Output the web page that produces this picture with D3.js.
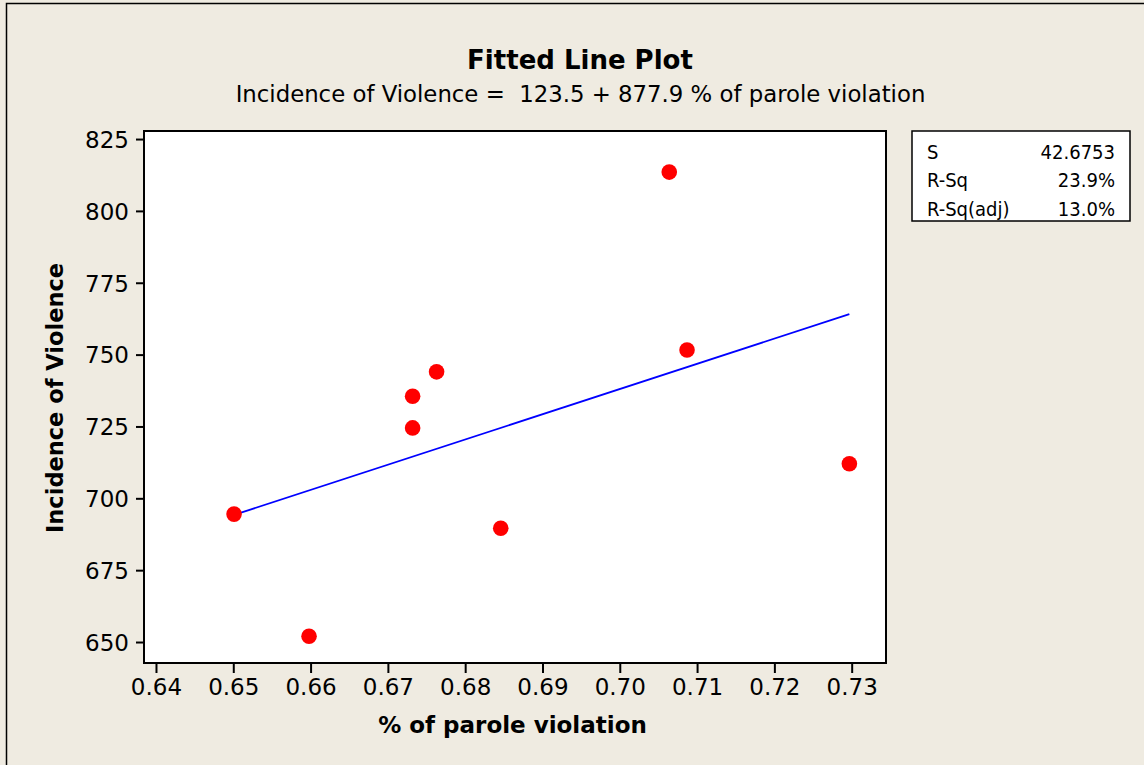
<!DOCTYPE html>
<html>
<head>
<meta charset="utf-8">
<script src="https://cdn.jsdelivr.net/npm/d3@7"></script>
<style>
  html, body { margin: 0; padding: 0; background: #EFEBE1; }
  svg { display: block; }
  text { font-family: "DejaVu Sans", "Liberation Sans", Arial, sans-serif; fill: #000; }
  .cond { font-family: "DejaVu Sans Condensed", "DejaVu Sans", sans-serif; }
</style>
</head>
<body>
<svg id="chart" width="1144" height="765"></svg>
<script>
// ---- data ----
const paroleViolation = [0.6501, 0.6598, 0.6732, 0.6732, 0.6763, 0.6846, 0.7064, 0.7087, 0.7297];
const incidenceViolence = [694.5, 652.0, 724.5, 735.5, 744.0, 689.6, 813.5, 751.6, 712.0];
const fitIntercept = 123.5;
const fitSlope = 877.9;
const xTicks = [0.64, 0.65, 0.66, 0.67, 0.68, 0.69, 0.70, 0.71, 0.72, 0.73];
const yTicks = [650, 675, 700, 725, 750, 775, 800, 825];
const statLabels = ["S", "R-Sq", "R-Sq(adj)"];
const statValues = ["42.6753", "23.9%", "13.0%"];
const titleText = "Fitted Line Plot";
const subtitleText = "Incidence of Violence =  123.5 + 877.9 % of parole violation";
const xLabel = "% of parole violation";
const yLabel = "Incidence of Violence";

// ---- layout ----
const svg = d3.select("#chart");
const plot = { left: 144, top: 131, right: 886, bottom: 663 };

svg.append("rect").attr("x", 0).attr("y", 0).attr("width", 1144).attr("height", 765).attr("fill", "#EFEBE1");
svg.append("rect").attr("x", 6.5).attr("y", 3.5).attr("width", 1150).attr("height", 770)
  .attr("fill", "none").attr("stroke", "#000").attr("stroke-width", 1.5);

const x = d3.scaleLinear().domain([0.63845, 0.73444]).range([plot.left, plot.right]);
const y = d3.scaleLinear().domain([642.7, 827.8]).range([plot.bottom, plot.top]);

// plot area
svg.append("rect").attr("x", plot.left).attr("y", plot.top)
  .attr("width", plot.right - plot.left).attr("height", plot.bottom - plot.top)
  .attr("fill", "#fff").attr("stroke", "#000").attr("stroke-width", 2);

// axes
const xAxis = d3.axisBottom(x).tickValues(xTicks).tickFormat(d3.format(".2f")).tickSize(10).tickSizeOuter(0).tickPadding(6);
const gx = svg.append("g").attr("transform", `translate(0,${plot.bottom})`).call(xAxis);
gx.select(".domain").remove();
gx.selectAll(".tick line").attr("stroke", "#000").attr("stroke-width", 2);
gx.selectAll(".tick text").attr("font-size", 23).attr("font-family", null).attr("dy", "0.7em");

const yAxis = d3.axisLeft(y).tickValues(yTicks).tickFormat(d3.format("d")).tickSize(8).tickSizeOuter(0).tickPadding(7);
const gy = svg.append("g").attr("transform", `translate(${plot.left},0)`).call(yAxis);
gy.select(".domain").remove();
gy.selectAll(".tick line").attr("stroke", "#000").attr("stroke-width", 2);
gy.selectAll(".tick text").attr("font-size", 23).attr("font-family", null).attr("dy", "0.36em");

// fitted line
const xMin = d3.min(paroleViolation), xMax = d3.max(paroleViolation);
svg.append("line")
  .attr("x1", x(xMin)).attr("y1", y(fitIntercept + fitSlope * xMin))
  .attr("x2", x(xMax)).attr("y2", y(fitIntercept + fitSlope * xMax))
  .attr("stroke", "#0000FF").attr("stroke-width", 1.8);

// points
svg.append("g").selectAll("circle")
  .data(paroleViolation.map((v, i) => [v, incidenceViolence[i]]))
  .join("circle")
  .attr("cx", d => x(d[0])).attr("cy", d => y(d[1])).attr("r", 7.8)
  .attr("fill", "#FF0000");

// titles
svg.append("text").attr("x", 580).attr("y", 69).attr("text-anchor", "middle")
  .attr("font-size", 26).attr("font-weight", "bold").text(titleText);
svg.append("text").attr("x", 580.5).attr("y", 102).attr("text-anchor", "middle")
  .attr("font-size", 22.8).style("white-space", "pre").text(subtitleText);

// axis labels
svg.append("text").attr("x", 512.5).attr("y", 733).attr("text-anchor", "middle")
  .attr("font-size", 23).attr("font-weight", "bold").text(xLabel);
svg.append("text").attr("transform", "translate(63,398) rotate(-90)").attr("text-anchor", "middle")
  .attr("font-size", 22.5).attr("font-weight", "bold").text(yLabel);

// stats box
const box = { left: 912, top: 131, right: 1130, bottom: 221 };
svg.append("rect").attr("x", box.left).attr("y", box.top)
  .attr("width", box.right - box.left).attr("height", box.bottom - box.top)
  .attr("fill", "#fff").attr("stroke", "#000").attr("stroke-width", 1.5);
const rowBase = [158.5, 187, 215.5];
svg.append("g").selectAll("text").data(statLabels).join("text").attr("class", "cond")
  .attr("x", 927).attr("y", (d, i) => rowBase[i]).attr("font-size", 20).text(d => d);
svg.append("g").selectAll("text").data(statValues).join("text").attr("class", "cond")
  .attr("x", 1115).attr("y", (d, i) => rowBase[i]).attr("text-anchor", "end").attr("font-size", 20).text(d => d);
</script>
</body>
</html>
